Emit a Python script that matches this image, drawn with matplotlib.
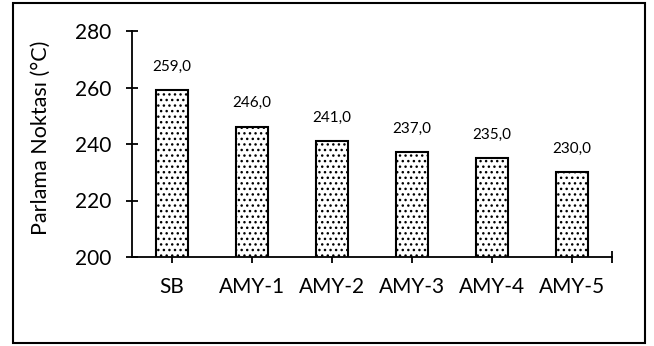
import matplotlib
matplotlib.use("Agg")
import matplotlib.pyplot as plt
from matplotlib.patches import Rectangle

categories = ["SB", "AMY-1", "AMY-2", "AMY-3", "AMY-4", "AMY-5"]
flash_points = [259.0, 246.0, 241.0, 237.0, 235.0, 230.0]
y_ticks = [200, 220, 240, 260, 280]

plt.rcParams["font.family"] = ["Lato", "DejaVu Sans"]
plt.rcParams["hatch.linewidth"] = 1.0

fig = plt.figure(figsize=(6.54, 3.46), dpi=100)
ax = fig.add_axes([132 / 654, 1 - 257 / 346, 480 / 654, 226 / 346])

x = list(range(len(categories)))
ax.bar(x, flash_points, width=0.4, bottom=0, color="white",
       edgecolor="black", linewidth=1.5, hatch="...", zorder=2)

for xi, v in zip(x, flash_points):
    ax.annotate(f"{v:.1f}".replace(".", ","), xy=(xi, v), xytext=(0, 12),
                textcoords="offset points", ha="center", va="bottom",
                fontsize=11)

ax.set_xlim(-0.5, len(categories) - 0.5)
ax.set_ylim(200, 280)
ax.set_yticks(y_ticks)
ax.set_yticklabels([str(t) for t in y_ticks], fontsize=15)

ax.set_xticks(x + [len(categories) - 0.5])
ax.set_xticklabels(categories + [""], fontsize=15)
ax.tick_params(axis="x", direction="inout", length=8.6, width=1.3, pad=10)
ax.tick_params(axis="y", direction="inout", length=8, width=1.3, pad=11)

for side in ("top", "right"):
    ax.spines[side].set_visible(False)
for side in ("left", "bottom"):
    ax.spines[side].set_linewidth(1.3)

fig.text(41 / 654, 1 - 138 / 346, "Parlama Noktası (°C)", rotation=90,
         ha="center", va="center", fontsize=15.5)

fig.patches.append(Rectangle((13 / 654, 3 / 346), 632 / 654, 340 / 346,
                             transform=fig.transFigure, fill=False,
                             edgecolor="black", linewidth=1.5))

fig.savefig("out.png", dpi=100)
